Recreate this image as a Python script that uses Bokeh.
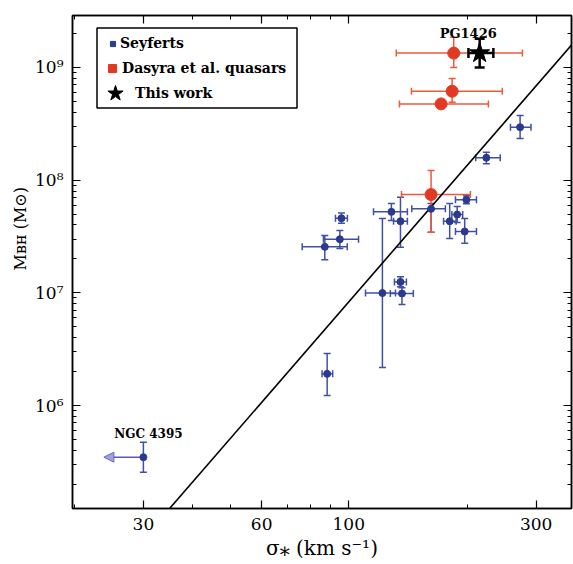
import math
from bokeh.plotting import figure
from bokeh.models import (ColumnDataSource, Whisker, TeeHead, Legend, LegendItem, Label,
                          Arrow, NormalHead, Range1d, FixedTicker, LogAxis, Title, BoxAnnotation,
                          PrintfTickFormatter, CustomJSTickFormatter)
from bokeh.embed import file_html
from bokeh.resources import INLINE

# ---------------- data ----------------
# Seyferts (reverberation-mapped AGN)
sey_sigma    = [273, 224, 95.8, 94.9, 86.9, 121.8, 135.4, 136.6, 128.4, 135.4, 162, 199.3, 188.8, 180.7, 197.3, 88.1]
sey_sigma_lo = [258, 210.5, 92.5, 86.2, 76.1, 110.3, 130.7, 127.6, 115.6, 130, 144.7, 186.9, 183, 174.3, 186.9, 85.5]
sey_sigma_hi = [291, 243, 99.2, 105.9, 99.1, 131.5, 140.2, 146, 141, 141, 176.2, 211.4, 195, 187.6, 211.4, 91]
sey_mbh      = [2.95e8, 1.58e8, 4.59e7, 2.99e7, 2.56e7, 9.96e6, 1.25e7, 9.86e6, 5.23e7, 4.32e7, 5.56e7, 6.69e7, 4.95e7, 4.32e7, 3.5e7, 1.91e6]
sey_mbh_lo   = [2.34e8, 1.40e8, 4.15e7, 2.47e7, 1.97e7, 2.17e6, 1.13e7, 7.87e6, 4.38e7, 2.54e7, 3.45e7, 6.16e7, 4.21e7, 3.03e7, 2.75e7, 1.23e6]
sey_mbh_hi   = [3.74e8, 1.77e8, 5.11e7, 3.57e7, 3.22e7, 4.56e7, 1.39e7, 1.11e7, 6.2e7, 7.05e7, 6.2e7, 7.26e7, 5.83e7, 6.2e7, 4.56e7, 2.89e6]

# NGC 4395 (upper limit in sigma)
ngc_sigma       = [30]
ngc_sigma_limit = [23.8]
ngc_mbh         = [3.48e5]
ngc_mbh_lo      = [2.56e5]
ngc_mbh_hi      = [4.72e5]

# Dasyra et al. quasars
das_sigma    = [185, 183.3, 171.8, 162]
das_sigma_lo = [132.1, 144.4, 134.6, 136.2]
das_sigma_hi = [276.7, 246, 226.7, 204]
das_mbh      = [1.34e9, 6.15e8, 4.75e8, 7.45e7]
das_mbh_lo   = [1.0e9, 4.91e8, 4.38e8, 3.45e7]
das_mbh_hi   = [1.85e9, 7.97e8, 5.16e8, 1.22e8]

# This work (PG1426)
tw_sigma    = [215.4]
tw_sigma_lo = [201.7]
tw_sigma_hi = [233.4]
tw_mbh      = [1.34e9]
tw_mbh_lo   = [9.98e8]
tw_mbh_hi   = [1.8e9]

# M-sigma relation (Tremaine et al. 2002)
fit_intercept = 8.13
fit_slope = 4.02
fit_sigma0 = 200.0
fit_sigma = [19.8, 369.0]
fit_mbh = [10 ** (fit_intercept + fit_slope * math.log10(s / fit_sigma0)) for s in fit_sigma]

x_ticks = [30, 60, 100, 300]
x_minor = [20, 40, 50, 70, 80, 90, 200]
y_ticks = [1e6, 1e7, 1e8, 1e9]
y_minor = [k * 10 ** e for e in range(5, 10) for k in range(2, 10)]

x_title = "\u03c3\u204e (km s\u207b\u00b9)"
y_title = "M\u0299\u029c (M\u2299)"
legend_labels = ["Seyferts", "Dasyra et al. quasars", "This work"]

# ---------------- styling ----------------
BLUE = "#2b3a8e"
BLUE_ERR = "#4050a2"
RED = "#e23a22"
RED_ERR = "#ea5a3c"
SERIF = "DejaVu Serif"

p = figure(width=573, height=564, x_axis_type="log", y_axis_type="log",
           x_range=Range1d(19.8, 369), y_range=Range1d(1.22e5, 2.89e9),
           output_backend="svg", toolbar_location=None,
           min_border_left=72, min_border_right=2, min_border_top=15, min_border_bottom=56)
p.grid.visible = False
p.background_fill_color = "white"
p.border_fill_color = "white"
p.outline_line_color = "black"
p.outline_line_width = 1.5

sup_code = """
const sup = {"0":"\u2070","1":"\u00b9","2":"\u00b2","3":"\u00b3","4":"\u2074","5":"\u2075","6":"\u2076","7":"\u2077","8":"\u2078","9":"\u2079","-":"\u207b"};
const e = Math.round(Math.log10(tick));
return "10" + String(e).split("").map(c => sup[c]).join("");
"""

def style_axis(ax, show_labels):
    ax.axis_line_color = "black"
    ax.axis_line_width = 1.5
    ax.major_tick_in = 8
    ax.major_tick_out = 0
    ax.minor_tick_in = 4
    ax.minor_tick_out = 0
    ax.major_tick_line_width = 1.2
    ax.minor_tick_line_width = 1.0
    ax.major_tick_line_color = "black"
    ax.minor_tick_line_color = "black"
    if show_labels:
        ax.major_label_text_font = SERIF
        ax.major_label_text_font_size = "17px"
        ax.major_label_text_color = "black"
        ax.major_label_standoff = 9
        ax.axis_label_text_font = SERIF
        ax.axis_label_text_font_size = "20px"
        ax.axis_label_text_font_style = "normal"
        ax.axis_label_text_color = "black"
    else:
        ax.formatter = CustomJSTickFormatter(code="return ''")
        ax.major_label_text_font_size = "1px"
        ax.major_label_standoff = 0

xb = p.xaxis[0]
xb.ticker = FixedTicker(ticks=x_ticks, minor_ticks=x_minor)
xb.formatter = PrintfTickFormatter(format="%d")
style_axis(xb, True)
xb.axis_label = x_title
xb.axis_label_standoff = 3

yl = p.yaxis[0]
yl.ticker = FixedTicker(ticks=y_ticks, minor_ticks=y_minor)
yl.formatter = CustomJSTickFormatter(code=sup_code)
style_axis(yl, True)

xt = LogAxis(ticker=FixedTicker(ticks=x_ticks, minor_ticks=x_minor))
style_axis(xt, False)
p.add_layout(xt, "above")
yr = LogAxis(ticker=FixedTicker(ticks=y_ticks, minor_ticks=y_minor))
style_axis(yr, False)
p.add_layout(yr, "right")

# y title as a side-panel Title so it can be placed along the axis like the original
p.add_layout(Title(text=y_title, align="left", offset=238, standoff=6,
                   text_font=SERIF, text_font_size="16px", text_font_style="normal",
                   text_color="black"), "left")

# ---------------- fit line ----------------
p.line(fit_sigma, fit_mbh, line_color="black", line_width=1.6)

# ---------------- error bars ----------------
def errbars(src, color, width, head):
    for base, lo, hi, dim in (("y", "xl", "xh", "width"), ("x", "yl", "yh", "height")):
        w = Whisker(source=src, base=base, lower=lo, upper=hi, dimension=dim,
                    line_color=color, line_width=width, level="underlay",
                    lower_head=TeeHead(size=head, line_color=color, line_width=width),
                    upper_head=TeeHead(size=head, line_color=color, line_width=width))
        p.add_layout(w)

sey_src = ColumnDataSource(dict(x=sey_sigma, y=sey_mbh, xl=sey_sigma_lo, xh=sey_sigma_hi,
                                yl=sey_mbh_lo, yh=sey_mbh_hi))
das_src = ColumnDataSource(dict(x=das_sigma, y=das_mbh, xl=das_sigma_lo, xh=das_sigma_hi,
                                yl=das_mbh_lo, yh=das_mbh_hi))
tw_src = ColumnDataSource(dict(x=tw_sigma, y=tw_mbh, xl=tw_sigma_lo, xh=tw_sigma_hi,
                               yl=tw_mbh_lo, yh=tw_mbh_hi))
ngc_src = ColumnDataSource(dict(x=ngc_sigma, y=ngc_mbh, yl=ngc_mbh_lo, yh=ngc_mbh_hi,
                                xa=ngc_sigma_limit))

errbars(sey_src, BLUE_ERR, 1.5, 7)
errbars(das_src, RED_ERR, 1.5, 7)
errbars(tw_src, "black", 2.5, 10)
p.add_layout(Whisker(source=ngc_src, base="x", lower="yl", upper="yh", dimension="height",
                     line_color=BLUE_ERR, line_width=1.5, level="underlay",
                     lower_head=TeeHead(size=7, line_color=BLUE_ERR, line_width=1.5),
                     upper_head=TeeHead(size=7, line_color=BLUE_ERR, line_width=1.5)))
p.add_layout(Arrow(source=ngc_src, x_start="x", y_start="y", x_end="xa", y_end="y",
                   line_color="#5a5ab0", line_width=1.5, level="underlay",
                   end=NormalHead(size=10, fill_color="#a0a0dc", line_color="#6a6ab8", line_width=1)))

# ---------------- markers ----------------
p.scatter("x", "y", source=sey_src, size=7, color=BLUE)
p.scatter("x", "y", source=ngc_src, size=7, color=BLUE)
p.scatter("x", "y", source=das_src, size=12, color=RED)
p.scatter("x", "y", source=tw_src, marker="star", size=21, color="black")

# ---------------- legend ----------------
# hidden proxies that share the real data (legend swatch shapes: squares and a star)
lg1 = p.scatter("x", "y", source=sey_src, marker="square", size=6, color=BLUE, visible=False)
lg2 = p.scatter("x", "y", source=das_src, marker="square", size=10, color=RED, visible=False)
lg3 = p.scatter("x", "y", source=tw_src, marker="star", size=19, color="black", visible=False)

# outer legend frame (canvas pixels)
p.add_layout(BoxAnnotation(left=96.5, right=296.5, top=27.5, bottom=107.5,
                           left_units="canvas", right_units="canvas",
                           top_units="canvas", bottom_units="canvas",
                           fill_color="white", fill_alpha=1.0,
                           line_color="black", line_width=1.5, line_alpha=1.0,
                           level="annotation"))

# one legend per entry, so each swatch can have its own size
legend_specs = [  # (renderer, glyph box, location from frame bottom-left, label standoff)
    (lg1, 13, (34, 455), 1),
    (lg2, 20, (30, 430), 0),
    (lg3, 40, (23, 395), -12),
]
for (rend, gsize, loc, stand), lab in zip(legend_specs, legend_labels):
    lg = Legend(items=[LegendItem(label=lab, renderers=[rend])], location=loc,
                border_line_color=None, background_fill_alpha=0.0,
                label_text_font=SERIF, label_text_font_style="bold", label_text_font_size="14px",
                label_text_color="black", label_height=20,
                glyph_height=gsize, glyph_width=gsize, spacing=0, padding=0,
                label_standoff=stand, margin=0, click_policy="none")
    p.add_layout(lg)

# ---------------- annotations ----------------
pg_label_sigma, pg_label_mbh = 201.4, 2.0e9
ngc_label_sigma, ngc_label_mbh = 30.9, 5.64e5
p.add_layout(Label(x=pg_label_sigma, y=pg_label_mbh, text="PG1426", text_align="center",
                   text_baseline="alphabetic", text_font=SERIF, text_font_style="bold",
                   text_font_size="13px", text_color="black"))
p.add_layout(Label(x=ngc_label_sigma, y=ngc_label_mbh, text="NGC 4395", text_align="center",
                   text_baseline="alphabetic", text_font=SERIF, text_font_style="bold",
                   text_font_size="12px", text_color="black"))

open("out.html", "w", encoding="utf-8").write(file_html(p, INLINE))
